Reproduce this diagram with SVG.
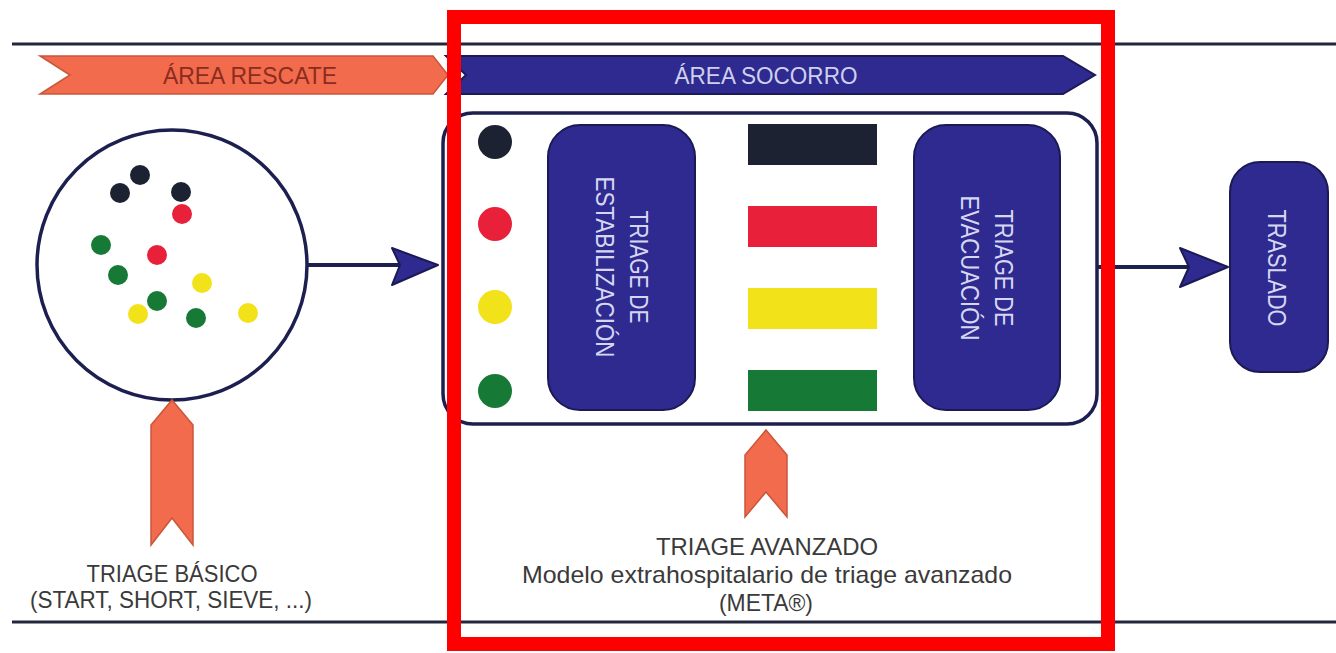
<svg xmlns="http://www.w3.org/2000/svg" width="1336" height="653" viewBox="0 0 1336 653">
<defs>
<style>
.t{font-family:"Liberation Sans Narrow","Liberation Sans",Arial,sans-serif;}
.gray{fill:#3a3a3a;font-size:24px;}
.wt{fill:#d6d6f2;font-size:25px;}
.box{fill:#2e2a8f;stroke:#1c1a55;stroke-width:2;}
.conn{stroke:#1c1f4f;stroke-width:4;fill:none;}
.head{fill:#2e2a8f;stroke:#1c1a55;stroke-width:2;stroke-linejoin:round;}
.orange{fill:#f26b4c;stroke:#c9553a;stroke-width:1.5;}
.rule{stroke:#23263d;stroke-width:3;}
.k{fill:#1d2233;}
.r{fill:#e8203a;}
.y{fill:#f2e21a;}
.g{fill:#167a36;}
</style>
</defs>
<rect width="1336" height="653" fill="#ffffff"/>
<line class="rule" x1="12" y1="44" x2="1336" y2="44"/>
<line class="rule" x1="12" y1="622" x2="1336" y2="622"/>

<g id="area-rescate">
<polygon class="orange" points="40,56 433,56 448,75 433,94 40,94 70,75"/>
<text class="t" x="250" y="84" font-size="24" fill="#8b2c20" text-anchor="middle" textLength="174" lengthAdjust="spacingAndGlyphs">ÁREA RESCATE</text>
</g>

<g id="area-socorro">
<polygon points="446,56 1063,56 1095,75 1063,94 446,94 466,75" fill="#2e2a8f" stroke="#1c1a55" stroke-width="2"/>
<text class="t" x="766" y="84" font-size="24" fill="#cfcfee" text-anchor="middle" textLength="183" lengthAdjust="spacingAndGlyphs">ÁREA SOCORRO</text>
</g>

<g id="connectors">
<line class="conn" x1="308" y1="265" x2="402" y2="265"/>
<polygon class="head" points="438,265 392,248 400,265 392,285"/>
<line class="conn" x1="1097" y1="267" x2="1190" y2="267"/>
<polygon class="head" points="1228,267 1180,248 1189,267 1180,287"/>
</g>

<g id="basic-triage-pool">
<circle cx="172" cy="265" r="135" fill="#ffffff" stroke="#1c1f4f" stroke-width="3.5"/>
<circle class="k" cx="140" cy="175" r="10"/>
<circle class="k" cx="120" cy="193" r="10"/>
<circle class="k" cx="181" cy="192" r="10"/>
<circle class="r" cx="182" cy="214" r="10"/>
<circle class="r" cx="157" cy="255" r="10"/>
<circle class="g" cx="101" cy="245" r="10"/>
<circle class="g" cx="118" cy="275" r="10"/>
<circle class="y" cx="202" cy="283" r="10"/>
<circle class="y" cx="138" cy="314" r="10"/>
<circle class="g" cx="157" cy="301" r="10"/>
<circle class="g" cx="196" cy="318" r="10"/>
<circle class="y" cx="248" cy="313" r="10"/>
</g>

<g id="socorro-box">
<rect x="443" y="113" width="654" height="311" rx="30" fill="#ffffff" stroke="#1c1f4f" stroke-width="3.5"/>
<circle class="k" cx="495" cy="142" r="17"/>
<circle class="r" cx="495" cy="224" r="17"/>
<circle class="y" cx="495" cy="307" r="17"/>
<circle class="g" cx="495" cy="391" r="17"/>
<rect class="k" x="748" y="124" width="129" height="41"/>
<rect class="r" x="748" y="206" width="129" height="41"/>
<rect class="y" x="748" y="288" width="129" height="41"/>
<rect class="g" x="748" y="370" width="129" height="41"/>
</g>

<g id="triage-estabilizacion">
<rect class="box" x="548" y="125" width="147" height="285" rx="32"/>
<text class="t wt" transform="translate(630,267) rotate(90)" text-anchor="middle" textLength="113" lengthAdjust="spacingAndGlyphs">TRIAGE DE</text>
<text class="t wt" transform="translate(596,267) rotate(90)" text-anchor="middle" textLength="181" lengthAdjust="spacingAndGlyphs">ESTABILIZACIÓN</text>
</g>

<g id="triage-evacuacion">
<rect class="box" x="914" y="125" width="146" height="285" rx="32"/>
<text class="t wt" transform="translate(995,268) rotate(90)" text-anchor="middle" textLength="117" lengthAdjust="spacingAndGlyphs">TRIAGE DE</text>
<text class="t wt" transform="translate(961,268) rotate(90)" text-anchor="middle" textLength="145" lengthAdjust="spacingAndGlyphs">EVACUACIÓN</text>
</g>

<g id="traslado">
<rect class="box" x="1230" y="162" width="98" height="210" rx="30"/>
<text class="t wt" transform="translate(1268,268) rotate(90)" text-anchor="middle" textLength="117" lengthAdjust="spacingAndGlyphs">TRASLADO</text>
</g>

<g id="triage-basico">
<polygon class="orange" points="172,400 193,425 193,545 172,518 151,545 151,425"/>
<text class="t gray" x="172" y="582" text-anchor="middle" textLength="171" lengthAdjust="spacingAndGlyphs">TRIAGE BÁSICO</text>
<text class="t gray" x="171" y="608" text-anchor="middle" textLength="282" lengthAdjust="spacingAndGlyphs">(START, SHORT, SIEVE, ...)</text>
</g>

<g id="triage-avanzado">
<polygon class="orange" points="766,430 787,455 787,517 766,492 745,517 745,455"/>
<text class="t gray" x="767" y="555" text-anchor="middle" textLength="222" lengthAdjust="spacingAndGlyphs">TRIAGE AVANZADO</text>
<text class="t gray" x="767" y="583" text-anchor="middle" textLength="490" lengthAdjust="spacingAndGlyphs">Modelo extrahospitalario de triage avanzado</text>
<text class="t gray" x="766" y="611" text-anchor="middle" textLength="94" lengthAdjust="spacingAndGlyphs">(META®)</text>
</g>

<rect id="highlight-frame" x="454" y="17" width="654" height="627" fill="none" stroke="#ff0000" stroke-width="14"/>
</svg>
